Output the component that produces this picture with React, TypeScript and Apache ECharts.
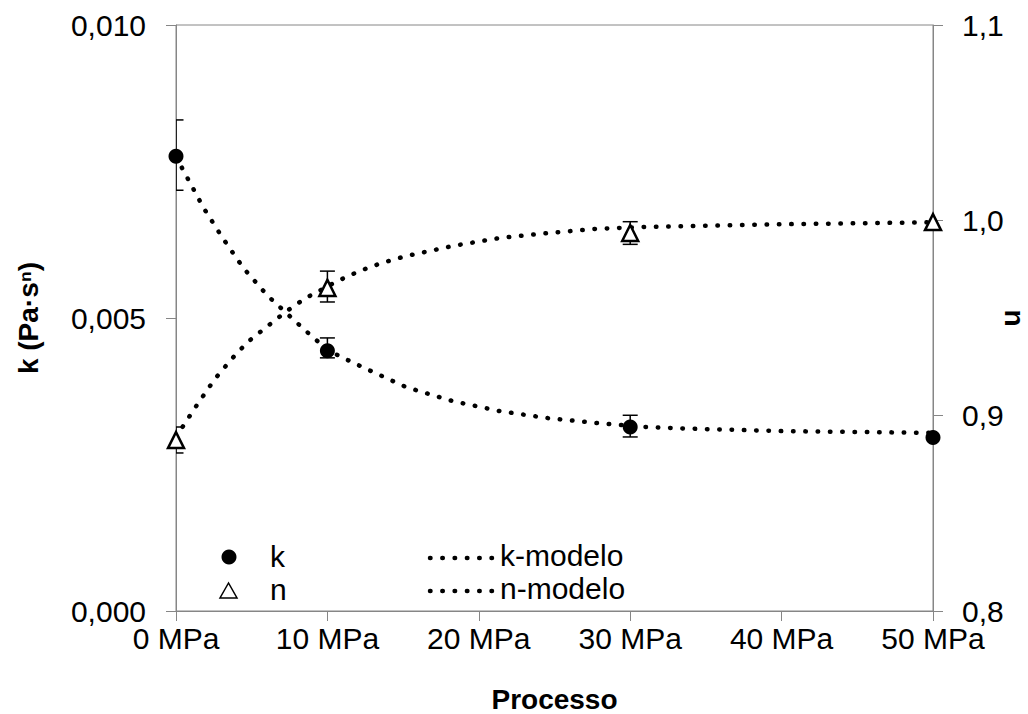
import React, { useEffect, useRef } from "react";
import * as echarts from "echarts";

// Measured points (x = pressure in MPa)
const xTicks = [0, 10, 20, 30, 40, 50];
const kPoints: [number, number][] = [
  [0, 0.00776],
  [10, 0.00444],
  [30, 0.00314],
  [50, 0.00296],
];
const nPoints: [number, number][] = [
  [0, 0.8875],
  [10, 0.9654],
  [30, 0.9935],
  [50, 0.9991],
];
// Error bars [x, low, high]
const kErrors: [number, number, number][] = [
  [0, 0.00718, 0.00838],
  [10, 0.00432, 0.00466],
  [30, 0.00297, 0.00334],
];
const nErrors: [number, number, number][] = [
  [0, 0.8809, 0.8942],
  [10, 0.9582, 0.974],
  [30, 0.9877, 0.9993],
];
// Model curves
const kModel: [number, number][] = [
  [0, 0.00775], [0.69, 0.00742], [1.82, 0.00688], [3.07, 0.00637], [4.46, 0.00585],
  [6.05, 0.00538], [7.77, 0.00497], [8.96, 0.00469], [10.1, 0.00444], [11.6, 0.00425],
  [13.0, 0.00408], [15.2, 0.00382], [18.3, 0.00358], [21.4, 0.00341], [24.6, 0.00329],
  [27.7, 0.00321], [31.0, 0.00314], [34.1, 0.00311], [40, 0.00307], [50, 0.00304],
];
const nModel: [number, number][] = [
  [0, 0.889], [0.43, 0.8942], [1.29, 0.9044], [2.2, 0.9147], [2.68, 0.9198],
  [3.67, 0.929], [4.73, 0.9377], [5.98, 0.9454], [7.24, 0.9531], [8.56, 0.9602],
  [10.67, 0.9689], [12.1, 0.974], [13.6, 0.9782], [15.2, 0.9817], [18.3, 0.9869],
  [21.4, 0.991], [24.6, 0.9935], [27.7, 0.9956], [30.9, 0.9966], [34.1, 0.9971],
  [40, 0.998], [50, 0.999],
];
const legendPoints = ["k", "n"];
const legendModels = ["k-modelo", "n-modelo"];

const FONT = "'Liberation Sans', Arial, sans-serif";
const AXIS_COLOR = "#868686";
const DOT_DASH = [0.5, 11.8];

function errorRender(params: any, api: any) {
  const x = api.value(0);
  const lo = api.coord([x, api.value(1)]);
  const hi = api.coord([x, api.value(2)]);
  const hw = 7.5;
  const style = { stroke: "#000", lineWidth: 1.5, fill: "none" };
  return {
    type: "group",
    children: [
      { type: "line", shape: { x1: lo[0], y1: lo[1], x2: hi[0], y2: hi[1] }, style },
      { type: "line", shape: { x1: lo[0] - hw, y1: lo[1], x2: lo[0] + hw, y2: lo[1] }, style },
      { type: "line", shape: { x1: hi[0] - hw, y1: hi[1], x2: hi[0] + hw, y2: hi[1] }, style },
    ],
  };
}

export default function App() {
  const ref = useRef<HTMLDivElement>(null);
  useEffect(() => {
    if (!ref.current) return;
    const chart = echarts.init(ref.current, null, { renderer: "svg" });
    const dotted = {
      color: "#000",
      width: 4.5,
      type: DOT_DASH as any,
      cap: "round" as any,
    };
    const legendText = (text: string, x: number, y: number) => ({
      type: "text",
      x,
      y,
      style: {
        text,
        fontSize: 30,
        fontFamily: FONT,
        fill: "#000",
        align: "left",
        verticalAlign: "middle",
      },
    });
    const legendDots = (y: number) => ({
      type: "line",
      shape: { x1: 430, y1: y, x2: 493, y2: y },
      style: { stroke: "#000", lineWidth: 4.5, lineDash: DOT_DASH, lineCap: "round" },
    });
    chart.setOption({
      animation: false,
      backgroundColor: "#fff",
      textStyle: { fontFamily: FONT, color: "#000" },
      grid: {
        left: 176,
        right: 95,
        top: 25,
        bottom: 103,
        show: true,
        borderColor: AXIS_COLOR,
        borderWidth: 1,
        outerBoundsMode: "none",
      },
      graphic: [
        { type: "circle", shape: { cx: 229, cy: 557, r: 7.5 }, style: { fill: "#000" } },
        {
          type: "polygon",
          shape: { points: [[228.5, 583], [220, 598], [237, 598]] },
          style: { fill: "#fff", stroke: "#000", lineWidth: 1.5 },
        },
        legendText(legendPoints[0], 270, 556),
        legendText(legendPoints[1], 270, 589),
        legendDots(558),
        legendDots(591),
        legendText(legendModels[0], 500, 555),
        legendText(legendModels[1], 500, 588),
      ],
      xAxis: {
        type: "value",
        min: 0,
        max: 50,
        interval: 10,
        name: "Processo",
        nameLocation: "middle",
        nameGap: 74,
        nameMoveOverlap: false,
        nameTextStyle: {
          fontSize: 28,
          lineHeight: 28,
          fontWeight: "bold",
          color: "#000",
          fontFamily: FONT,
        },
        axisLine: { show: true, lineStyle: { color: AXIS_COLOR, width: 1 } },
        axisTick: { show: true, inside: false, length: 10, lineStyle: { color: AXIS_COLOR } },
        axisLabel: {
          fontSize: 30,
          color: "#000",
          margin: 12,
          fontFamily: FONT,
          formatter: (v: number) => `${v} MPa`,
        },
        splitLine: { show: false },
      },
      yAxis: [
        {
          type: "value",
          position: "left",
          min: 0,
          max: 0.01,
          interval: 0.005,
          name: "k (Pa·sⁿ)",
          nameLocation: "middle",
          nameRotate: 90,
          nameGap: 134,
          nameMoveOverlap: false,
          nameTextStyle: { fontSize: 28, fontWeight: "bold", color: "#000", fontFamily: FONT },
          axisLine: { show: true, lineStyle: { color: AXIS_COLOR, width: 1 } },
          axisTick: { show: true, inside: false, length: 10, lineStyle: { color: AXIS_COLOR } },
          axisLabel: {
            fontSize: 30,
            color: "#000",
            margin: 30,
            fontFamily: FONT,
            formatter: (v: number) => v.toFixed(3).replace(".", ","),
          },
          splitLine: { show: false },
        },
        {
          type: "value",
          position: "right",
          min: 0.8,
          max: 1.1,
          interval: 0.1,
          name: "n",
          nameLocation: "middle",
          nameRotate: -90,
          nameGap: 68,
          nameMoveOverlap: false,
          nameTextStyle: {
            fontSize: 28,
            lineHeight: 26,
            fontWeight: "bold",
            color: "#000",
            fontFamily: FONT,
          },
          axisLine: { show: true, lineStyle: { color: AXIS_COLOR, width: 1 } },
          axisTick: { show: true, inside: false, length: 10, lineStyle: { color: AXIS_COLOR } },
          axisLabel: {
            fontSize: 30,
            color: "#000",
            margin: 29,
            fontFamily: FONT,
            formatter: (v: number) => v.toFixed(1).replace(".", ","),
          },
          splitLine: { show: false },
        },
      ],
      series: [
        {
          name: "k-modelo",
          type: "line",
          yAxisIndex: 0,
          data: kModel,
          showSymbol: false,
          symbol: "none",
          smooth: false,
          lineStyle: dotted,
          itemStyle: { color: "#000" },
          z: 1,
        },
        {
          name: "n-modelo",
          type: "line",
          yAxisIndex: 1,
          data: nModel,
          showSymbol: false,
          symbol: "none",
          smooth: false,
          lineStyle: dotted,
          itemStyle: { color: "#000" },
          z: 1,
        },
        {
          type: "custom",
          name: "k-err",
          yAxisIndex: 0,
          data: kErrors,
          renderItem: errorRender,
          clip: true,
          z: 2,
        },
        {
          type: "custom",
          name: "n-err",
          yAxisIndex: 1,
          data: nErrors,
          renderItem: errorRender,
          clip: true,
          z: 2,
        },
        {
          name: "k",
          type: "scatter",
          yAxisIndex: 0,
          data: kPoints,
          symbol: "circle",
          symbolSize: 15,
          clip: false,
          itemStyle: { color: "#000", opacity: 1 },
          z: 3,
        },
        {
          name: "n",
          type: "scatter",
          yAxisIndex: 1,
          data: nPoints,
          symbol: "triangle",
          symbolSize: 16,
          clip: false,
          itemStyle: { color: "#fff", borderColor: "#000", borderWidth: 2.5, opacity: 1 },
          z: 3,
        },
      ],
    });
    return () => chart.dispose();
  }, []);
  return (
    <div
      ref={ref}
      style={{ position: "fixed", left: 0, top: 0, width: 1028, height: 714, background: "#fff" }}
    />
  );
}
